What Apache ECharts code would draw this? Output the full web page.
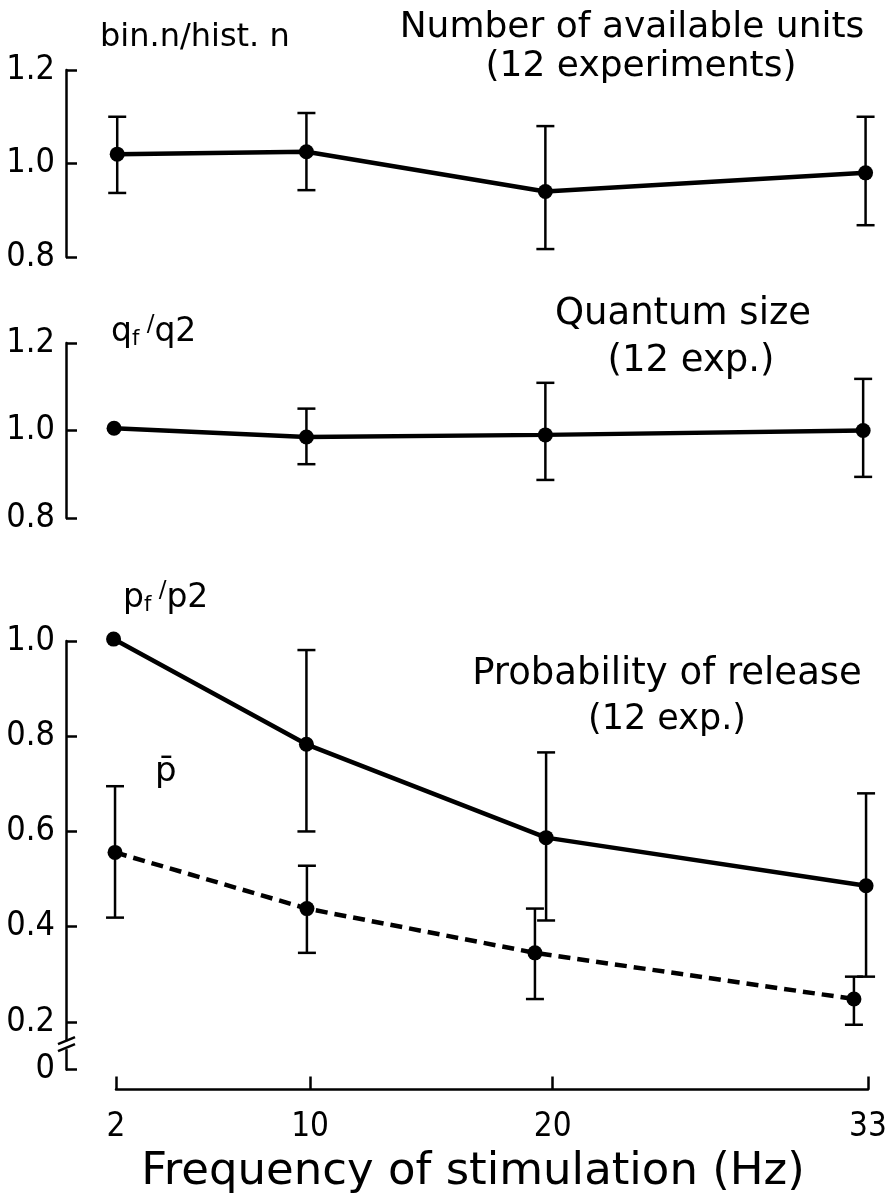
<!DOCTYPE html>
<html>
<head>
<meta charset="utf-8">
<script src="https://cdn.jsdelivr.net/npm/echarts@6.0.0/dist/echarts.min.js"></script>
<style>
  html, body { margin: 0; padding: 0; background: #fff; }
  #chart { width: 888px; height: 1194px; }
</style>
</head>
<body>
<div id="chart"></div>
<script>
// x tick labels (Hz)
const freqTicks = [2, 10, 20, 33];

// panel 1: number of available units (bin.n / hist.n)
const unitsFreq = [2.05, 9.85, 19.7, 32.9];
const unitsMean = [1.02, 1.025, 0.94, 0.98];
const unitsLow = [0.937, 0.943, 0.817, 0.868];
const unitsHigh = [1.10, 1.108, 1.08, 1.10];

// panel 2: quantum size (qf / q2)
const quantumFreq = [1.92, 9.85, 19.7, 32.8];
const quantumMean = [1.005, 0.985, 0.99, 1.0];
const quantumLow = [null, 0.923, 0.887, 0.894];
const quantumHigh = [null, 1.05, 1.109, 1.118];

// panel 3: probability of release (pf / p2) and p-bar
const releaseFreq = [1.9, 9.85, 19.73, 32.92];
const releaseMean = [1.004, 0.783, 0.587, 0.486];
const releaseLow = [null, 0.60, 0.413, 0.295];
const releaseHigh = [null, 0.981, 0.766, 0.68];

const pbarFreq = [1.96, 9.87, 19.27, 32.42];
const pbarMean = [0.556, 0.438, 0.345, 0.248];
const pbarLow = [0.419, 0.345, 0.248, 0.194];
const pbarHigh = [0.695, 0.528, 0.438, 0.295];

// y tick values per panel (0.1 on the bottom panel stands for the broken "0")
const ticksTop = [0.8, 1.0, 1.2];
const ticksBottom = [0.1, 0.2, 0.4, 0.6, 0.8, 1.0];

const NUM_FONT = '"Liberation Sans Narrow", "DejaVu Sans Condensed", "Liberation Sans"';
const TXT_FONT = 'DejaVu Sans';

const chart = echarts.init(document.getElementById('chart'));

const errorBar = (params, api) => {
  const x = api.value(0);
  const top = api.coord([x, api.value(2)]);
  const bot = api.coord([x, api.value(1)]);
  const half = 9;
  const style = { stroke: '#000', lineWidth: 2.5 };
  return {
    type: 'group',
    children: [
      { type: 'line', shape: { x1: top[0], y1: top[1], x2: bot[0], y2: bot[1] }, style },
      { type: 'line', shape: { x1: top[0] - half, y1: top[1], x2: top[0] + half, y2: top[1] }, style },
      { type: 'line', shape: { x1: bot[0] - half, y1: bot[1], x2: bot[0] + half, y2: bot[1] }, style },
    ],
  };
};

const lineSeries = (idx, xs, ys, dashed) => ({
  type: 'line',
  xAxisIndex: idx,
  yAxisIndex: idx,
  data: xs.map((x, i) => [x, ys[i]]),
  symbol: 'circle',
  symbolSize: 15,
  showAllSymbol: true,
  clip: false,
  itemStyle: { color: '#000' },
  lineStyle: { color: '#000', width: 4.5, type: dashed ? [12, 7] : 'solid' },
  z: 3,
  animation: false,
});

const barSeries = (idx, xs, lows, highs) => ({
  type: 'custom',
  xAxisIndex: idx,
  yAxisIndex: idx,
  data: xs.map((x, i) => [x, lows[i], highs[i]]).filter((d) => d[1] != null),
  encode: { x: 0, y: [1, 2] },
  renderItem: errorBar,
  clip: false,
  z: 2,
  animation: false,
});

const makeX = (show) => ({
  type: 'value',
  min: 2,
  max: 33,
  show,
  offset: 20,
  axisLine: { lineStyle: { color: '#000', width: 2.5 } },
  axisTick: { inside: true, length: 13, customValues: freqTicks, lineStyle: { color: '#000', width: 2.5 } },
  axisLabel: { customValues: freqTicks, color: '#000', fontFamily: NUM_FONT, fontSize: 33, margin: 21 },
  splitLine: { show: false },
});

const makeY = (min, max, ticks) => ({
  type: 'value',
  min,
  max,
  offset: 50,
  axisLine: { show: true, lineStyle: { color: '#000', width: 2.5 } },
  axisTick: { show: true, inside: true, length: 11, customValues: ticks, lineStyle: { color: '#000', width: 2.5 } },
  axisLabel: {
    customValues: ticks,
    color: '#000',
    fontFamily: NUM_FONT,
    fontSize: 34,
    margin: 11,
    formatter: (v) => (v < 0.15 ? '0' : v.toFixed(1)),
  },
  splitLine: { show: false },
});

const bottomX = makeX(true);
bottomX.name = 'Frequency of stimulation (Hz)';
bottomX.nameLocation = 'middle';
bottomX.nameGap = 60;
bottomX.nameTextStyle = { color: '#000', fontFamily: TXT_FONT, fontSize: 45, padding: [0, 38, 0, 0] };

chart.setOption({
  backgroundColor: '#fff',
  animation: false,
  grid: [
    { left: 116, width: 752, top: 70, height: 187, outerBoundsMode: 'none' },
    { left: 116, width: 752, top: 343, height: 175, outerBoundsMode: 'none' },
    { left: 116, width: 752, top: 641, height: 428.5, outerBoundsMode: 'none' },
  ],
  xAxis: [
    Object.assign(makeX(false), { gridIndex: 0 }),
    Object.assign(makeX(false), { gridIndex: 1 }),
    Object.assign(bottomX, { gridIndex: 2 }),
  ],
  yAxis: [
    Object.assign(makeY(0.8, 1.2, ticksTop), { gridIndex: 0 }),
    Object.assign(makeY(0.8, 1.2, ticksTop), { gridIndex: 1 }),
    Object.assign(makeY(0.1, 1.0, ticksBottom), { gridIndex: 2 }),
  ],
  series: [
    barSeries(0, unitsFreq, unitsLow, unitsHigh),
    lineSeries(0, unitsFreq, unitsMean, false),
    barSeries(1, quantumFreq, quantumLow, quantumHigh),
    lineSeries(1, quantumFreq, quantumMean, false),
    barSeries(2, releaseFreq, releaseLow, releaseHigh),
    lineSeries(2, releaseFreq, releaseMean, false),
    barSeries(2, pbarFreq, pbarLow, pbarHigh),
    lineSeries(2, pbarFreq, pbarMean, true),
  ],
});

// annotation texts and the axis break mark
const txt = (x, y, text, size, align) => ({
  type: 'text',
  x,
  y,
  style: { text, fill: '#000', fontFamily: TXT_FONT, fontSize: size, align: align || 'left', verticalAlign: 'middle' },
});

const ratioLabel = (x, y, a, b, c) => ({
  type: 'text',
  x,
  y,
  style: {
    text: `{m|${a}}{s|${b}}{sl| /}{m|${c}}`,
    fill: '#000',
    verticalAlign: 'middle',
    rich: {
      m: { fontFamily: TXT_FONT, fontSize: 33, lineHeight: 36 },
      s: { fontFamily: TXT_FONT, fontSize: 21, lineHeight: 20, verticalAlign: 'bottom' },
      sl: { fontFamily: TXT_FONT, fontSize: 23, lineHeight: 24, verticalAlign: 'top' },
    },
  },
});

const axisX = chart.convertToPixel({ xAxisIndex: 2 }, 2) - 50;
const breakY = chart.convertToPixel({ yAxisIndex: 2 }, 0.151);
const breakStyle = { stroke: '#000', lineWidth: 2.5 };

chart.setOption({
  graphic: [
    txt(100, 38, 'bin.n/hist. n', 32),
    txt(632, 28, 'Number of available units', 36, 'center'),
    txt(641, 67, '(12 experiments)', 36, 'center'),
    ratioLabel(111, 332, 'q', 'f', 'q2'),
    txt(683, 314, 'Quantum size', 37, 'center'),
    txt(691, 361, '(12 exp.)', 37, 'center'),
    ratioLabel(123, 598, 'p', 'f', 'p2'),
    txt(667, 674, 'Probability of release', 37, 'center'),
    txt(667, 720, '(12 exp.)', 35, 'center'),
    txt(155, 772, 'p\u0304', 34),
    {
      type: 'rect',
      shape: { x: axisX - 3, y: breakY - 4, width: 6, height: 8 },
      style: { fill: '#fff' },
      z: 10,
    },
    { type: 'line', shape: { x1: axisX - 8, y1: breakY - 1, x2: axisX + 9, y2: breakY - 8 }, style: breakStyle, z: 11 },
    { type: 'line', shape: { x1: axisX - 8, y1: breakY + 6, x2: axisX + 9, y2: breakY - 1 }, style: breakStyle, z: 11 },
  ],
});
</script>
</body>
</html>
